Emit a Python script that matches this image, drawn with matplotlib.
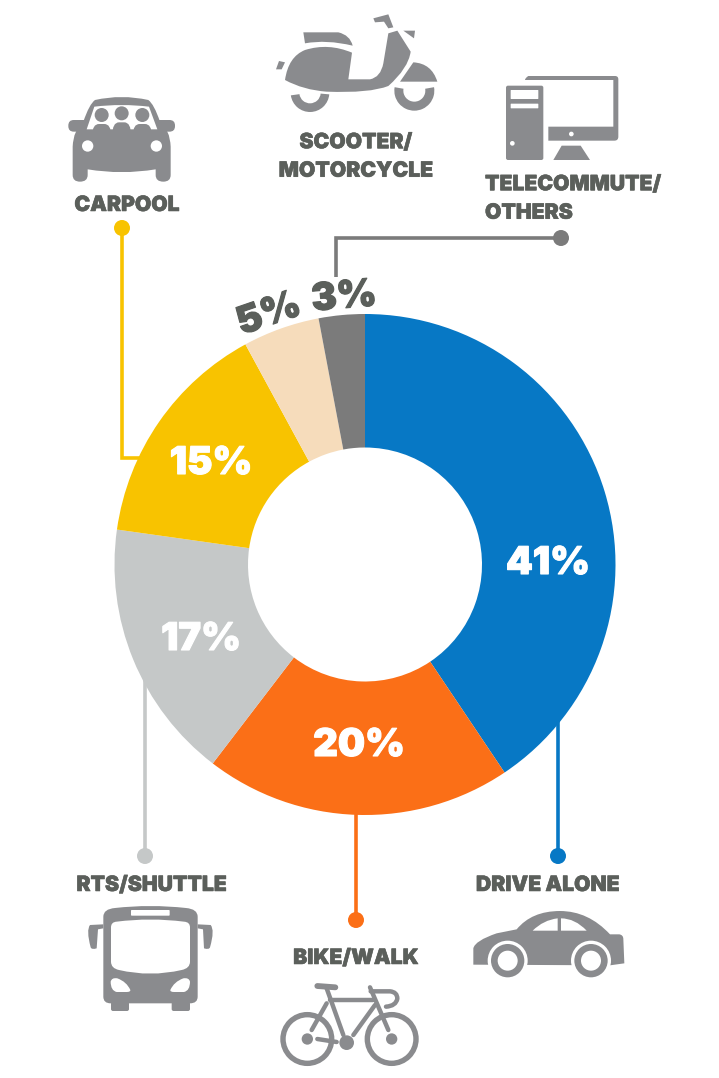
import matplotlib
matplotlib.use("Agg")
import matplotlib.pyplot as plt
import matplotlib.patheffects as pe
from matplotlib.patches import Circle, PathPatch, Wedge, FancyBboxPatch
from matplotlib.path import Path

# Commute mode share
categories = ["DRIVE ALONE", "BIKE/WALK", "RTS/SHUTTLE", "CARPOOL", "SCOOTER/\nMOTORCYCLE", "TELECOMMUTE/\nOTHERS"]
shares = [41, 20, 17, 15, 5, 3]
share_labels = ["41%", "20%", "17%", "15%", "5%", "3%"]
colors = ["#0778c5", "#fb6f17", "#c5c8c8", "#f8c300", "#f6dcbb", "#7b7b7b"]

ICON = "#8a8b8e"
TEXT = "#5b5f5b"
FONT = "Inter"

fig = plt.figure(figsize=(7.19, 10.78), dpi=100)
ax = fig.add_axes([0, 0, 1, 1])

# donut, y axis runs downwards so angles go clockwise on screen
cx, cy = 365, 564.5
ax.pie(shares, colors=colors, startangle=-90, counterclock=True, center=(cx, cy),
       radius=250.5, wedgeprops=dict(width=133.5, linewidth=0))
ax.set_xlim(0, 719)
ax.set_ylim(1078, 0)
ax.set_aspect("equal")
ax.axis("off")


def shape(steps, ox=0, oy=0, scale=1 / 3, fc=ICON, z=5, close=True, ec="none", lw=0):
    # 2-tuples are line steps, 4-tuples are quadratic curves (control, end)
    verts, codes = [], []
    for i, s in enumerate(steps):
        s = [ox + v * scale if k % 2 == 0 else oy + v * scale for k, v in enumerate(s)]
        if i == 0:
            verts.append(s)
            codes.append(Path.MOVETO)
        elif len(s) == 2:
            verts.append(s)
            codes.append(Path.LINETO)
        else:
            verts += [s[:2], s[2:]]
            codes += [Path.CURVE3, Path.CURVE3]
    if close:
        verts.append(verts[0])
        codes.append(Path.CLOSEPOLY)
    ax.add_patch(PathPatch(Path(verts, codes), fc=fc if close else "none", ec=ec, lw=lw, zorder=z,
                           capstyle="round", joinstyle="round"))


def dot(x, y, r, ox=0, oy=0, scale=1 / 3, fc=ICON, z=5):
    ax.add_patch(Circle((ox + x * scale, oy + y * scale), r * scale, fc=fc, ec="none", zorder=z))


def box(x0, y0, x1, y1, ox=0, oy=0, scale=1 / 3, fc=ICON, z=5, pad=2):
    ax.add_patch(FancyBboxPatch((ox + x0 * scale + pad, oy + y0 * scale + pad),
                                (x1 - x0) * scale - 2 * pad, (y1 - y0) * scale - 2 * pad,
                                boxstyle="round,pad=%g" % pad, fc=fc, ec="none", zorder=z))


def stroke(steps, ox=0, oy=0, lw=3.2):
    shape(steps, ox, oy, close=False, ec=ICON, lw=lw)


def draw_scooter(ox=260, oy=0):
    shape([(75, 240), (85, 170, 135, 150), (205, 128, 276, 158), (265, 238), (330, 238),
           (362, 232, 370, 190), (385, 100), (412, 92), (452, 155), (445, 205, 385, 258),
           (330, 280, 200, 275), (130, 270, 75, 240)], ox, oy)
    shape([(130, 97), (235, 97), (270, 105, 278, 137), (200, 118, 135, 130)], ox, oy)
    shape([(57, 183), (75, 187), (65, 208), (48, 208)], ox, oy)
    shape([(340, 55), (385, 43), (400, 82), (385, 85), (372, 65), (345, 67)], ox, oy)
    shape([(430, 92), (465, 92), (462, 115)], ox, oy)
    shape([(420, 245), (460, 187), (515, 190, 532, 245)], ox, oy)
    ax.add_patch(Wedge((ox + 150 / 3, oy + 278 / 3), 58 / 3, 5, 172, width=26 / 3, fc=ICON, ec="none", zorder=5))
    ax.add_patch(Wedge((ox + 463 / 3, oy + 272 / 3), 60 / 3, -10, 190, width=27 / 3, fc=ICON, ec="none", zorder=5))


def draw_computer(ox=260, oy=0):
    box(738, 257, 850, 480, ox, oy)
    box(752, 270, 835, 297, ox, oy, fc="white", z=6, pad=0.5)
    box(752, 311, 835, 325, ox, oy, fc="white", z=6, pad=0.5)
    dot(757, 430, 7, ox, oy, fc="white", z=6)
    shape([(795, 240), (795, 234, 805, 228), (1065, 228), (1075, 228, 1075, 238), (1075, 410),
           (1075, 422, 1063, 422), (865, 422), (865, 380), (1060, 380), (1060, 240)], ox, oy)
    dot(934, 402, 7, ox, oy, fc="white", z=6)
    shape([(905, 437), (962, 437), (990, 480), (880, 480)], ox, oy)


def draw_carpool(ox=50, oy=80):
    shape([(100, 125), (118, 72, 135, 60), (215, 42, 295, 60), (312, 72, 330, 125), (360, 150, 362, 200),
           (362, 285), (362, 305, 340, 305), (317, 305, 317, 285), (317, 268), (215, 285, 113, 268),
           (113, 285), (113, 305, 90, 305), (68, 305, 68, 285), (68, 200), (70, 150, 100, 125)], ox, oy)
    box(55, 120, 375, 155, ox, oy, pad=5.5)
    shape([(133, 80), (215, 70, 297, 80), (322, 148), (110, 148)], ox, oy, fc="white", z=6)
    for x, y in [(155, 105), (215, 100), (277, 105)]:
        dot(x, y, 21, ox, oy, z=7)
        top = y + 27
        shape([(x - 28, 165), (x - 28, top, x - 8, top), (x + 8, top), (x + 28, top, x + 28, 165)], ox, oy, z=7)
    dot(113, 198, 17, ox, oy, fc="white", z=7)
    dot(319, 198, 17, ox, oy, fc="white", z=7)


def draw_bus(ox=60, oy=840):
    shape([(130, 230), (130, 207, 165, 204), (271, 192, 378, 204), (413, 207, 413, 230), (413, 470),
           (413, 490, 390, 490), (152, 490), (130, 490, 130, 470)], ox, oy)
    box(153, 485, 207, 513, ox, oy, pad=2)
    box(335, 485, 390, 513, ox, oy, pad=2)
    shape([(130, 253), (130, 265), (114, 268), (110, 325), (95, 330, 92, 322), (78, 270, 90, 255)], ox, oy)
    shape([(413, 253), (413, 265), (429, 268), (432, 325), (447, 330, 450, 322), (465, 270, 452, 255)], ox, oy)
    shape([(153, 262), (153, 246, 170, 245), (271, 232, 372, 245), (390, 246, 390, 262), (390, 365),
           (390, 385, 365, 390), (271, 412, 177, 390), (153, 385, 153, 365)], ox, oy, fc="white", z=6)
    box(213, 210, 329, 227, ox, oy, fc="white", z=6, pad=0.8)
    shape([(152, 425), (155, 412, 172, 415), (200, 425, 211, 450), (212, 456, 200, 456), (170, 456),
           (152, 452, 152, 425)], ox, oy, fc="white", z=6)
    shape([(390, 425), (387, 412, 370, 415), (342, 425, 331, 450), (330, 456, 342, 456), (372, 456),
           (390, 452, 390, 425)], ox, oy, fc="white", z=6)


def draw_bike(ox=60, oy=840):
    for x in (742, 995):
        ax.add_patch(Circle((ox + x / 3, oy + 597 / 3), 73 / 3, fc="none", ec=ICON, lw=3.9, zorder=5))
        dot(x, 597, 17, ox, oy)
    dot(860, 608, 22, ox, oy)
    stroke([(800, 445), (850, 585)], ox, oy)
    stroke([(800, 490), (755, 570)], ox, oy)
    stroke([(810, 480), (940, 480)], ox, oy)
    stroke([(945, 495), (880, 585)], ox, oy)
    stroke([(930, 442), (985, 570)], ox, oy)
    stroke([(772, 597), (830, 606)], ox, oy)
    stroke([(772, 438), (826, 442)], ox, oy, lw=4.2)
    stroke([(932, 454), (990, 454), (1012, 456, 1012, 476), (1008, 498, 978, 500)], ox, oy)


def draw_car(ox=460, oy=840):
    shape([(40, 325), (45, 302, 110, 280), (170, 268), (215, 213, 300, 213), (385, 213, 450, 283),
           (478, 283), (490, 285, 490, 297), (493, 370), (450, 376), (40, 374)], ox, oy)
    shape([(218, 272), (250, 240, 293, 235), (293, 272)], ox, oy, fc="white", z=6)
    shape([(303, 235), (345, 235, 380, 272), (303, 272)], ox, oy, fc="white", z=6)
    for x in (143, 393):
        dot(x, 362, 60, ox, oy, fc="white", z=6)
        dot(x, 362, 50, ox, oy, z=7)
        dot(x, 362, 30, ox, oy, fc="white", z=8)


draw_scooter()
draw_computer()
draw_carpool()
draw_bus()
draw_bike()
draw_car()

# leader lines run behind the donut
leaders = [
    ([558, 558], [856, 715], colors[0], (558, 856)),
    ([356, 356], [920, 810], colors[1], (356, 920)),
    ([145, 145], [856, 680], colors[2], (145, 856)),
    ([122, 122, 140], [228, 458, 458], colors[3], (122, 228)),
    ([561, 336, 336], [238, 238, 277], colors[5], (561, 238)),
]
for xs, ys, c, end in leaders:
    ax.plot(xs, ys, color=c, lw=2.6, solid_joinstyle="miter", solid_capstyle="butt", zorder=0.5)
    ax.add_patch(Circle(end, 8, fc=c, ec="none", zorder=3))

# share labels
label_pos = [(548, 564, 0), (359, 746, 0), (201, 640, 0), (211, 464, 0), (269, 315, 19), (344, 298, 5)]
label_cols = ["white", "white", "white", "white", TEXT, TEXT]
for s, (x, y, rot), c in zip(share_labels, label_pos, label_cols):
    t = ax.text(x, y, s, color=c, fontsize=27.5, family=FONT, fontweight="black", rotation=rot,
                rotation_mode="anchor", ha="center", va="center", zorder=10)
    t.set_path_effects([pe.withStroke(linewidth=0.8, foreground=c)])

# category labels
cat_pos = [(548, 885, "center"), (356, 958, "center"), (152, 885, "center"), (127, 205, "center"),
           (356, 156.5, "center"), (485, 198.5, "left")]
for name, (x, y, ha) in zip(categories, cat_pos):
    t = ax.text(x, y, name, color=TEXT, fontsize=15.2, family=FONT, fontweight="black", ha=ha, va="center",
                linespacing=1.53, multialignment=ha, zorder=10)
    t.set_path_effects([pe.withStroke(linewidth=0.4, foreground=TEXT)])

fig.savefig("out.png", dpi=100)
